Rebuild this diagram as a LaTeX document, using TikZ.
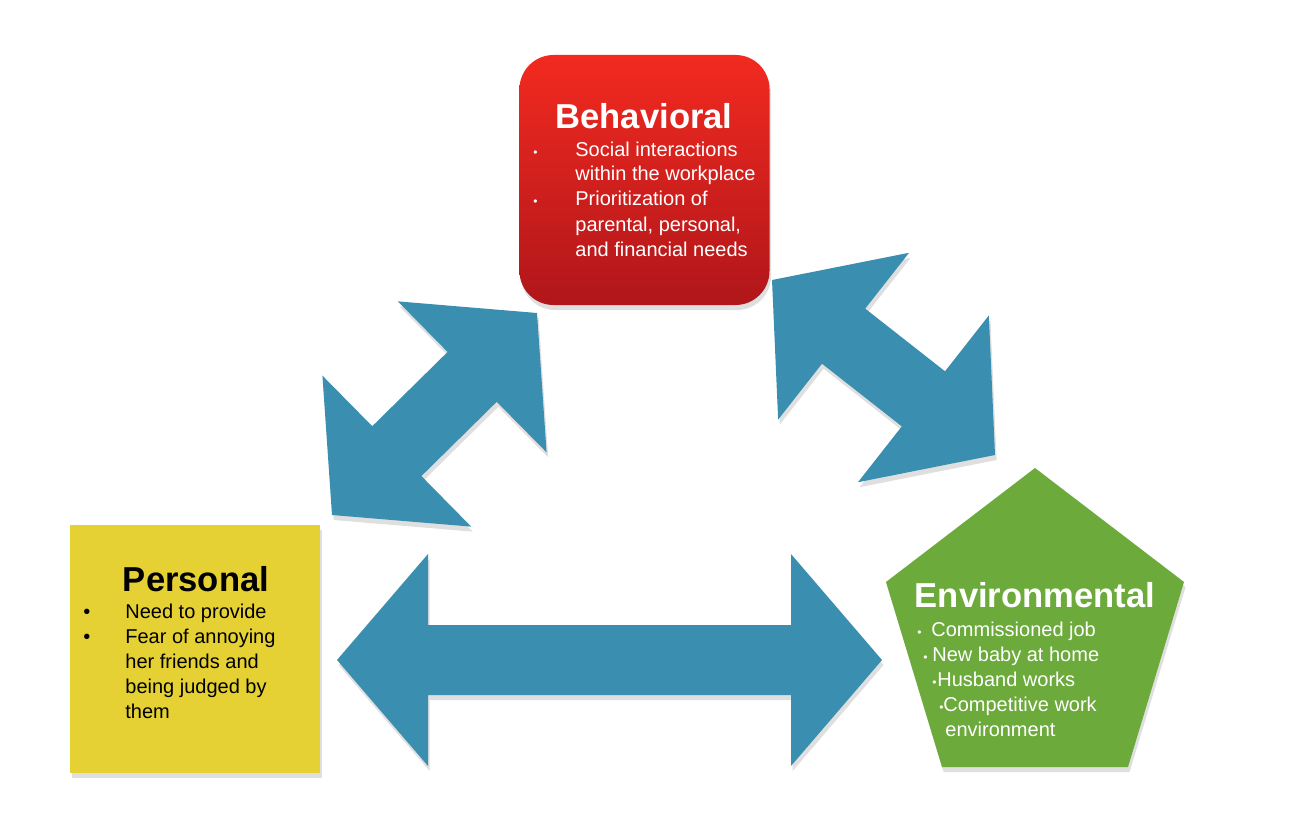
\documentclass[tikz,border=0pt]{standalone}
\usepackage{fontspec}
\setmainfont{Liberation Sans}
\usetikzlibrary{calc,shadows}
\definecolor{rougehaut}{RGB}{242,42,32}
\definecolor{rougebas}{RGB}{176,22,26}
\definecolor{jaune}{RGB}{229,209,52}
\definecolor{vert}{RGB}{108,170,60}
\definecolor{bleu}{RGB}{58,142,176}
% Fleche double entre deux pointes
\newcommand{\flechedouble}[2]{%
  \fill[blocfleche] (#1)
    -- ($(#1)!\Tete!(#2)!\Demi!90:(#2)$)
    -- ($(#1)!\Tete!(#2)!\Tige!90:(#2)$)
    -- ($(#2)!\Tete!(#1)!\Tige!-90:(#1)$)
    -- ($(#2)!\Tete!(#1)!\Demi!-90:(#1)$)
    -- (#2)
    -- ($(#2)!\Tete!(#1)!\Demi!90:(#1)$)
    -- ($(#2)!\Tete!(#1)!\Tige!90:(#1)$)
    -- ($(#1)!\Tete!(#2)!\Tige!-90:(#2)$)
    -- ($(#1)!\Tete!(#2)!\Demi!-90:(#2)$)
    -- cycle;}
\newcommand{\petitepuce}{{\fontsize{6}{6}\selectfont •}}
\begin{document}
\begin{tikzpicture}[x=0.5pt,y=-0.5pt]
% Styles
\tikzstyle{ombre}=[drop shadow={opacity=0.25,shadow xshift=0.8pt,shadow yshift=-2.5pt}]
\tikzstyle{boite}=[ombre,inner sep=0pt,minimum width=125pt,minimum height=125pt]
\tikzstyle{blocfleche}=[ombre,fill=bleu]
\tikzstyle{titre}=[anchor=base,inner sep=0pt,font=\fontsize{17.3}{20}\selectfont\bfseries]
\tikzstyle{liste}=[anchor=base west,inner sep=0pt,align=left,font=\fontsize{10}{12.5}\selectfont]
% Dimensions des fleches
\def\Tete{45.5pt}
\def\Demi{53pt}
\def\Tige{17.5pt}
\def\Puce{21pt}
% Cadre
\useasboundingbox (0,0) rectangle (1296,840);
% Boites
\node[boite,rounded corners=17pt,top color=rougehaut,bottom color=rougebas] (behav) at (644.5,180) {};
\node[boite,fill=jaune,minimum height=124pt] (perso) at (195,649) {};
\fill[vert,ombre] (1035,468) -- (1184,582) -- (1128,767) -- (942,767) -- (886,582) -- cycle;
\coordinate (envi) at (1035,633);
% Fleches
\coordinate (pb1) at (332,515);
\coordinate (pb2) at (537,313);
\coordinate (be1) at (772,280);
\coordinate (be2) at (995,455);
\coordinate (pe1) at (337,660);
\coordinate (pe2) at (882,660);
\flechedouble{pb1}{pb2}
\flechedouble{be1}{be2}
\flechedouble{pe1}{pe2}
% Textes : Behavioral (base = derniere ligne)
\node[titre,text=white] (behav-titre) at (644,128) {Behavioral};
\node[liste,text=white] (behav-liste) at (533,256) {\makebox[\Puce][l]{\petitepuce}Social interactions\\
  \hspace*{\Puce}within the workplace\\
  \makebox[\Puce][l]{\petitepuce}Prioritization of\\
  \hspace*{\Puce}parental, personal,\\
  \hspace*{\Puce}and financial needs};
% Textes : Personal
\node[titre] (perso-titre) at (196,591) {Personal};
\node[liste] (perso-liste) at (83,718) {\makebox[\Puce][l]{•}Need to provide\\
  \makebox[\Puce][l]{•}Fear of annoying\\
  \hspace*{\Puce}her friends and\\
  \hspace*{\Puce}being judged by\\
  \hspace*{\Puce}them};
% Textes : Environmental
\node[titre,text=white] (envi-titre) at (1035,607) {Environmental};
\node[liste,text=white] (envi-liste) at (917,736) {\makebox[7pt][l]{\petitepuce}Commissioned job\\
  \hspace*{3pt}\makebox[4.5pt][l]{\petitepuce}New baby at home\\
  \hspace*{7.5pt}\makebox[2.5pt][l]{\petitepuce}Husband works\\
  \hspace*{11pt}\makebox[2pt][l]{\petitepuce}Competitive work\\
  \hspace*{14pt}environment};
\end{tikzpicture}
\end{document}
